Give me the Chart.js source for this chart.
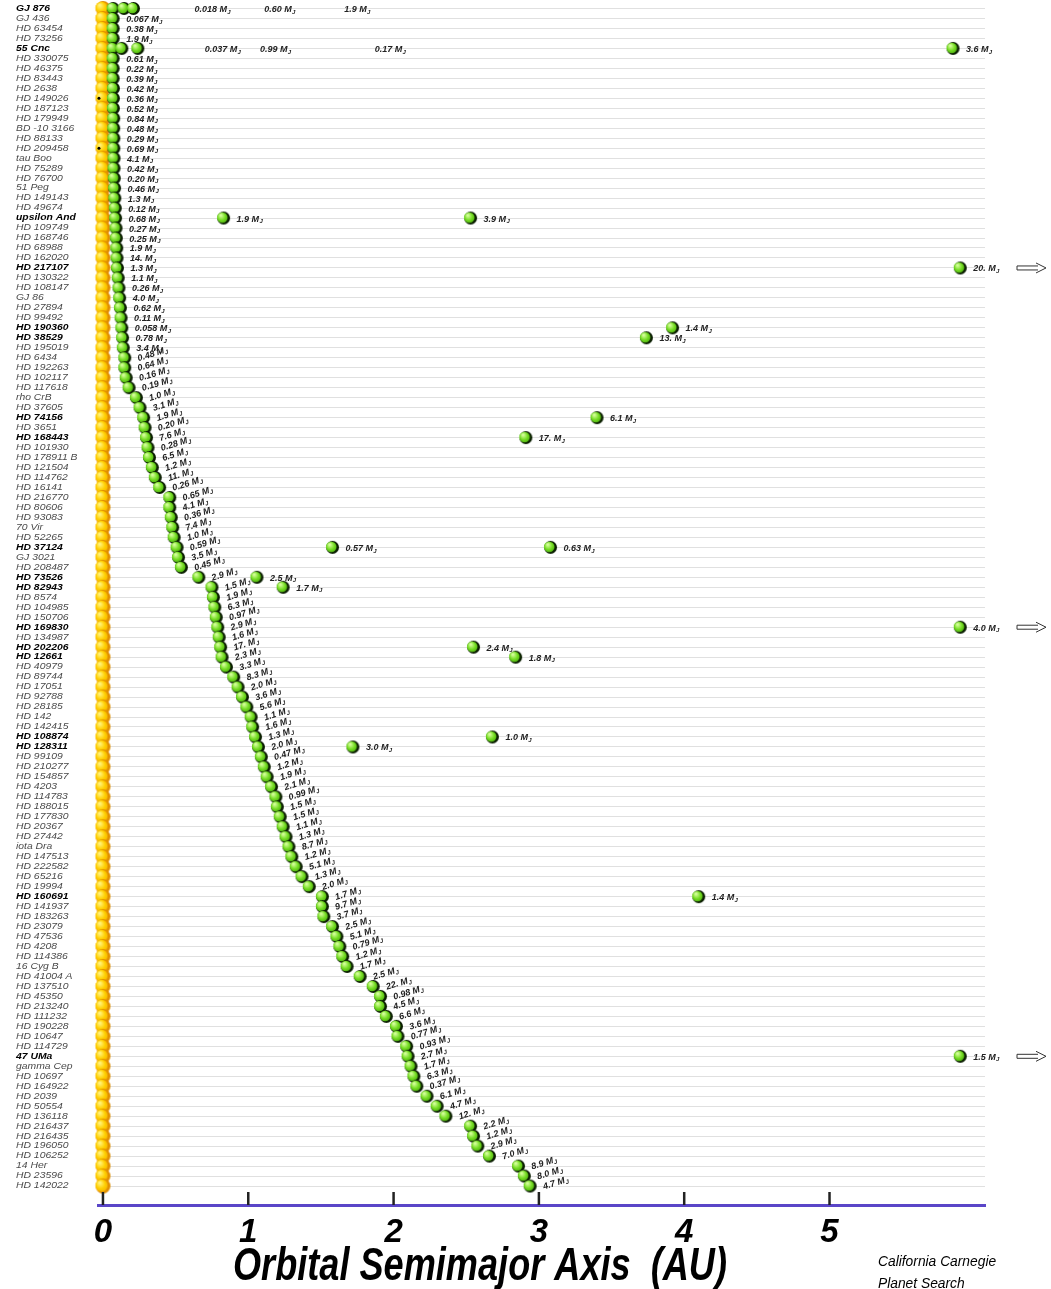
<!DOCTYPE html>
<html>
<head>
<meta charset="utf-8">
<script src="https://cdn.jsdelivr.net/npm/chart.js@4.4.0/dist/chart.umd.min.js"></script>
<style>
  body { margin: 0; background: #fff; }
  canvas { display: block; }
</style>
</head>
<body>
<canvas id="chart" width="1051" height="1289"></canvas>
<script>
// host stars, ordered by the semimajor axis of the innermost planet
const stars = [
  'GJ 876', 'GJ 436', 'HD 63454', 'HD 73256', '55 Cnc', 'HD 330075', 'HD 46375', 'HD 83443', 'HD 2638', 'HD 149026',
  'HD 187123', 'HD 179949', 'BD -10 3166', 'HD 88133', 'HD 209458', 'tau Boo', 'HD 75289', 'HD 76700', '51 Peg', 'HD 149143',
  'HD 49674', 'upsilon And', 'HD 109749', 'HD 168746', 'HD 68988', 'HD 162020', 'HD 217107', 'HD 130322', 'HD 108147', 'GJ 86',
  'HD 27894', 'HD 99492', 'HD 190360', 'HD 38529', 'HD 195019', 'HD 6434', 'HD 192263', 'HD 102117', 'HD 117618', 'rho CrB',
  'HD 37605', 'HD 74156', 'HD 3651', 'HD 168443', 'HD 101930', 'HD 178911 B', 'HD 121504', 'HD 114762', 'HD 16141', 'HD 216770',
  'HD 80606', 'HD 93083', '70 Vir', 'HD 52265', 'HD 37124', 'GJ 3021', 'HD 208487', 'HD 73526', 'HD 82943', 'HD 8574',
  'HD 104985', 'HD 150706', 'HD 169830', 'HD 134987', 'HD 202206', 'HD 12661', 'HD 40979', 'HD 89744', 'HD 17051', 'HD 92788',
  'HD 28185', 'HD 142', 'HD 142415', 'HD 108874', 'HD 128311', 'HD 99109', 'HD 210277', 'HD 154857', 'HD 4203', 'HD 114783',
  'HD 188015', 'HD 177830', 'HD 20367', 'HD 27442', 'iota Dra', 'HD 147513', 'HD 222582', 'HD 65216', 'HD 19994', 'HD 160691',
  'HD 141937', 'HD 183263', 'HD 23079', 'HD 47536', 'HD 4208', 'HD 114386', '16 Cyg B', 'HD 41004 A', 'HD 137510', 'HD 45350',
  'HD 213240', 'HD 111232', 'HD 190228', 'HD 10647', 'HD 114729', '47 UMa', 'gamma Cep', 'HD 10697', 'HD 164922', 'HD 2039',
  'HD 50554', 'HD 136118', 'HD 216437', 'HD 216435', 'HD 196050', 'HD 106252', '14 Her', 'HD 23596', 'HD 142022'
];

// semimajor axes (AU) of the planets of each star
const semiMajor = [
  [0.07, 0.145, 0.21], [0.07], [0.07], [0.07], [0.07, 0.13, 0.24, 5.85],
  [0.07], [0.07], [0.07], [0.072], [0.072],
  [0.072], [0.074], [0.074], [0.075], [0.075],
  [0.076], [0.076], [0.078], [0.08], [0.082],
  [0.085], [0.087, 0.83, 2.53], [0.09], [0.092], [0.095],
  [0.097], [0.10, 5.9], [0.105], [0.11], [0.115],
  [0.12], [0.125], [0.13, 3.92], [0.135, 3.74], [0.14],
  [0.15], [0.15], [0.16], [0.18], [0.23],
  [0.255], [0.28, 3.40], [0.29], [0.30, 2.91], [0.31],
  [0.32], [0.34], [0.36], [0.39], [0.46],
  [0.46], [0.47], [0.48], [0.49], [0.51, 1.58, 3.08],
  [0.52], [0.54], [0.66, 1.06], [0.75, 1.24], [0.76],
  [0.77], [0.78], [0.79, 5.9], [0.80], [0.81, 2.55],
  [0.82, 2.84], [0.85], [0.90], [0.93], [0.96],
  [0.99], [1.02], [1.03], [1.05, 2.68], [1.07, 1.72],
  [1.09], [1.11], [1.13], [1.16], [1.19],
  [1.20], [1.22], [1.24], [1.26], [1.28],
  [1.30], [1.33], [1.37], [1.42], [1.51, 4.10],
  [1.51], [1.52], [1.58], [1.61], [1.63],
  [1.65], [1.68], [1.77], [1.86], [1.91],
  [1.91], [1.95], [2.02], [2.03], [2.09],
  [2.10, 5.9], [2.12], [2.14], [2.16], [2.23],
  [2.30], [2.36], [2.53], [2.55], [2.58],
  [2.66], [2.86], [2.90], [2.94]
];

// minimum masses (Jupiter masses), same layout as semiMajor
const masses = [
  ['0.018', '0.60', '1.9'], ['0.067'], ['0.38'], ['1.9'], ['0.037', '0.99', '0.17', '3.6'],
  ['0.61'], ['0.22'], ['0.39'], ['0.42'], ['0.36'],
  ['0.52'], ['0.84'], ['0.48'], ['0.29'], ['0.69'],
  ['4.1'], ['0.42'], ['0.20'], ['0.46'], ['1.3'],
  ['0.12'], ['0.68', '1.9', '3.9'], ['0.27'], ['0.25'], ['1.9'],
  ['14.'], ['1.3', '20.'], ['1.1'], ['0.26'], ['4.0'],
  ['0.62'], ['0.11'], ['0.058', '1.4'], ['0.78', '13.'], ['3.4'],
  ['0.48'], ['0.64'], ['0.16'], ['0.19'], ['1.0'],
  ['3.1'], ['1.9', '6.1'], ['0.20'], ['7.6', '17.'], ['0.28'],
  ['6.5'], ['1.2'], ['11.'], ['0.26'], ['0.65'],
  ['4.1'], ['0.36'], ['7.4'], ['1.0'], ['0.59', '0.57', '0.63'],
  ['3.5'], ['0.45'], ['2.9', '2.5'], ['1.5', '1.7'], ['1.9'],
  ['6.3'], ['0.97'], ['2.9', '4.0'], ['1.6'], ['17.', '2.4'],
  ['2.3', '1.8'], ['3.3'], ['8.3'], ['2.0'], ['3.6'],
  ['5.6'], ['1.1'], ['1.6'], ['1.3', '1.0'], ['2.0', '3.0'],
  ['0.47'], ['1.2'], ['1.9'], ['2.1'], ['0.99'],
  ['1.5'], ['1.5'], ['1.1'], ['1.3'], ['8.7'],
  ['1.2'], ['5.1'], ['1.3'], ['2.0'], ['1.7', '1.4'],
  ['9.7'], ['3.7'], ['2.5'], ['5.1'], ['0.79'],
  ['1.2'], ['1.7'], ['2.5'], ['22.'], ['0.98'],
  ['4.5'], ['6.6'], ['3.6'], ['0.77'], ['0.93'],
  ['2.7', '1.5'], ['1.7'], ['6.3'], ['0.37'], ['6.1'],
  ['4.7'], ['12.'], ['2.2'], ['1.2'], ['2.9'],
  ['7.0'], ['8.9'], ['8.0'], ['4.7']
];

const transiting = ['HD 149026', 'HD 209458'];
const offChart = ['HD 217107', 'HD 169830', '47 UMa'];
const axisTicks = [0, 1, 2, 3, 4, 5];

// where the labels of the crowded inner systems were moved to (AU)
const spreadLabels = { 0: [0.63, 1.11, 1.66], 4: [0.70, 1.08, 1.87] };

// little shaded balls used as point styles
function ball(r, edge, light, mid, dark) {
  const c = document.createElement('canvas');
  c.width = c.height = Math.ceil(r * 2 + 2);
  const g = c.getContext('2d');
  const cx = c.width / 2, cy = c.height / 2;
  g.beginPath(); g.arc(cx, cy, r, 0, Math.PI * 2); g.fillStyle = edge; g.fill();
  const grad = g.createRadialGradient(cx - r * 0.45, cy - r * 0.45, r * 0.1, cx - r * 0.2, cy - r * 0.1, r);
  grad.addColorStop(0, light);
  grad.addColorStop(0.55, mid);
  grad.addColorStop(1, dark);
  g.beginPath(); g.arc(cx - r * 0.2, cy - r * 0.08, r * 0.82, 0, Math.PI * 2); g.fillStyle = grad; g.fill();
  return c;
}
const greenBall = ball(6.5, '#0b1f00', '#d6ff9c', '#74dc22', '#46a90c');
const yellowBall = ball(7.5, '#e08f00', '#fff27a', '#ffcf00', '#f3b000');

const planetPoints = [];
semiMajor.forEach((list, i) => list.forEach((a, k) => planetPoints.push({ x: a, y: i, k: k })));
const starPoints = stars.map((_, i) => ({ x: 0, y: i }));

function massLabel(ctx, txt, x, y, angle) {
  ctx.save();
  ctx.translate(x, y);
  ctx.rotate(angle);
  ctx.font = 'italic bold 9px "Liberation Sans", Arial, sans-serif';
  const s = txt + ' M';
  ctx.fillText(s, 0, 0);
  const w = ctx.measureText(s).width;
  ctx.font = 'italic bold 6px "Liberation Sans", Arial, sans-serif';
  ctx.fillText('J', w + 0.3, 2.5);
  ctx.restore();
}

const extras = {
  id: 'extras',
  afterDatasetsDraw(chart) {
    const ctx = chart.ctx, xs = chart.scales.x, ys = chart.scales.y;
    ctx.save();
    ctx.textBaseline = 'middle';
    ctx.textAlign = 'left';

    // star names, stretched a little like the original lettering
    stars.forEach((name, i) => {
      const y = ys.getPixelForValue(i);
      const multi = semiMajor[i].length > 1;
      ctx.font = (multi ? 'italic bold ' : 'italic ') + '8.5px "Liberation Sans", Arial, sans-serif';
      ctx.fillStyle = multi ? '#000' : '#4a4a4a';
      ctx.save();
      ctx.translate(16, y);
      ctx.scale(1.22, 1);
      ctx.fillText(name, 0, 0);
      ctx.restore();
    });

    // transiting planets get a dot on the star
    transiting.forEach(name => {
      const i = stars.indexOf(name);
      ctx.beginPath();
      ctx.arc(xs.getPixelForValue(0) - 4, ys.getPixelForValue(i), 1.5, 0, Math.PI * 2);
      ctx.fillStyle = '#000';
      ctx.fill();
    });

    // mass labels
    ctx.fillStyle = '#222';
    planetPoints.forEach(p => {
      const txt = masses[p.y][p.k];
      const y = ys.getPixelForValue(p.y) + 1;
      if (spreadLabels[p.y] && p.k < spreadLabels[p.y].length) {
        massLabel(ctx, txt, xs.getPixelForValue(spreadLabels[p.y][p.k]), y, 0);
        return;
      }
      const x = xs.getPixelForValue(p.x) + 13;
      const angle = (p.k === 0 && p.y >= 35) ? -0.3 : 0;
      massLabel(ctx, txt, x, y, angle);
    });

    // arrows for planets further out than the axis
    ctx.strokeStyle = '#333';
    ctx.lineWidth = 1;
    offChart.forEach(name => {
      const y = ys.getPixelForValue(stars.indexOf(name));
      ctx.beginPath();
      ctx.moveTo(1017, y - 2); ctx.lineTo(1038, y - 2);
      ctx.moveTo(1017, y + 2); ctx.lineTo(1038, y + 2);
      ctx.moveTo(1017, y - 2); ctx.lineTo(1017, y + 2);
      ctx.moveTo(1036, y - 5); ctx.lineTo(1046, y); ctx.lineTo(1036, y + 5);
      ctx.stroke();
    });

    // upward tick marks on the axis
    ctx.strokeStyle = '#222';
    ctx.lineWidth = 2.5;
    axisTicks.forEach(v => {
      const x = xs.getPixelForValue(v);
      ctx.beginPath();
      ctx.moveTo(x, chart.chartArea.bottom);
      ctx.lineTo(x, chart.chartArea.bottom - 13);
      ctx.stroke();
    });

    // axis title, condensed
    ctx.fillStyle = '#000';
    ctx.textBaseline = 'alphabetic';
    ctx.font = 'italic bold 47px "Liberation Sans", Arial, sans-serif';
    const title = 'Orbital Semimajor Axis  (AU)';
    const tw = ctx.measureText(title).width;
    ctx.save();
    ctx.translate(233, 1280);
    ctx.scale(494 / tw, 1);
    ctx.fillText(title, 0, 0);
    ctx.restore();

    // credit
    ctx.font = 'italic 15px "Liberation Sans", Arial, sans-serif';
    [['California Carnegie', 1266], ['Planet Search', 1288]].forEach(([t, y]) => {
      ctx.save();
      ctx.translate(878, y);
      ctx.scale(0.92, 1);
      ctx.fillText(t, 0, 0);
      ctx.restore();
    });
    ctx.restore();
  }
};

new Chart(document.getElementById('chart').getContext('2d'), {
  type: 'scatter',
  data: {
    datasets: [
      {
        label: 'Planets',
        data: planetPoints,
        pointStyle: greenBall,
        pointRadius: 6.5,
        clip: false
      },
      {
        label: 'Stars',
        data: starPoints,
        pointStyle: yellowBall,
        pointRadius: 7.5,
        clip: false
      }
    ]
  },
  options: {
    responsive: false,
    animation: false,
    layout: { padding: { top: 0, right: 66, bottom: 0, left: 0 } },
    plugins: {
      legend: { display: false },
      tooltip: { enabled: false }
    },
    scales: {
      x: {
        type: 'linear',
        min: -0.03,
        max: 6.07,
        afterFit(scale) { scale.height = 84; },
        afterBuildTicks(scale) { scale.ticks = axisTicks.map(v => ({ value: v })); },
        grid: { display: false, drawTicks: false },
        border: { color: '#5a46c8', width: 3 },
        ticks: {
          padding: 8,
          color: '#000',
          font: { family: '"Liberation Sans", Arial, sans-serif', size: 33, style: 'italic', weight: 'bold' }
        }
      },
      y: {
        type: 'linear',
        reverse: true,
        min: 0,
        max: 119.9,
        afterFit(scale) { scale.width = 98.6; },
        afterBuildTicks(scale) { scale.ticks = stars.map((_, i) => ({ value: i })); },
        grid: { color: '#e0e0e0', lineWidth: 1, drawTicks: false },
        border: { display: false },
        ticks: { display: false }
      }
    }
  },
  plugins: [extras]
});
</script>
</body>
</html>
